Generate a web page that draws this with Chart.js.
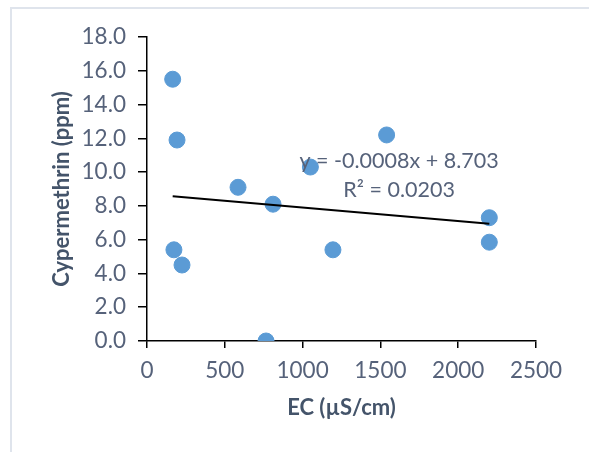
<!DOCTYPE html>
<html>
<head>
<meta charset="utf-8">
<script src="https://cdn.jsdelivr.net/npm/chart.js@4/dist/chart.umd.min.js"></script>
<style>
  html, body { margin: 0; padding: 0; background: #fff; }
  #wrap { position: relative; width: 589px; height: 452px; }
  #frame { position: absolute; left: 10px; top: 7px; right: 0; bottom: 0;
           border-left: 2px solid #dfe4ec; border-top: 2px solid #dfe4ec; }
  canvas { position: absolute; left: 0; top: 0; }
</style>
</head>
<body>
<div id="wrap">
  <div id="frame"></div>
  <canvas id="c" width="589" height="452"></canvas>
</div>
<script>
// EC (µS/cm) and cypermethrin (ppm) for each sample
const ecValues = [165, 193, 173, 225, 585, 810, 765, 1050, 1195, 1540, 2200, 2200];
const cypermethrin = [15.5, 11.9, 5.4, 4.5, 9.1, 8.1, 0.0, 10.3, 5.4, 12.2, 7.3, 5.85];

// Linear trendline coefficients and fit
const trendSlope = -0.0008;
const trendIntercept = 8.703;
const trendR2 = 0.0203;
const trendLabel = 'y = -0.0008x + 8.703';
const r2Label = 'R\u00B2 = 0.0203';

const xTicks = [0, 500, 1000, 1500, 2000, 2500];
const yTicks = [0, 2, 4, 6, 8, 10, 12, 14, 16, 18];

const xTitle = 'EC (\u00B5S/cm)';
const yTitle = 'Cypermethrin (ppm)';

const points = ecValues.map((x, i) => ({ x: x, y: cypermethrin[i] }));
const xMin = Math.min(...ecValues), xMax = Math.max(...ecValues);
const trendPoints = [xMin, xMax].map(x => ({ x: x, y: trendSlope * x + trendIntercept }));

const tickColor = '#56627a';
const titleColor = '#44546a';

// Equation label drawn beside the trendline
const equationPlugin = {
  id: 'equation',
  afterDatasetsDraw(chart) {
    const ctx = chart.ctx;
    const xs = chart.scales.x, ys = chart.scales.y;
    const cx = xs.getPixelForValue(1620);
    ctx.save();
    ctx.font = '21.5px Lato';
    ctx.fillStyle = tickColor;
    ctx.textAlign = 'center';
    ctx.textBaseline = 'middle';
    ctx.fillText(trendLabel, cx, ys.getPixelForValue(10.63));
    ctx.fillText(r2Label, cx, ys.getPixelForValue(8.95));
    ctx.restore();
  }
};

new Chart(document.getElementById('c'), {
  type: 'scatter',
  data: {
    datasets: [
      {
        label: 'Cypermethrin',
        data: points,
        backgroundColor: '#5b9bd5',
        borderColor: '#5b9bd5',
        pointRadius: 8,
        pointHoverRadius: 8,
        order: 2
      },
      {
        label: 'Linear trend',
        type: 'line',
        data: trendPoints,
        borderColor: '#000000',
        borderWidth: 2,
        pointRadius: 0,
        fill: false,
        order: 1
      }
    ]
  },
  options: {
    responsive: false,
    animation: false,
    layout: { padding: { left: 49, top: 37, right: 53, bottom: 31 } },
    plugins: { legend: { display: false }, tooltip: { enabled: false } },
    scales: {
      x: {
        type: 'linear',
        min: 0, max: 2500,
        afterBuildTicks(scale) { scale.ticks = xTicks.map(v => ({ value: v })); },
        afterFit(scale) { scale.height = 80; },
        border: { display: true, color: '#000', width: 1.5 },
        grid: { display: true, drawOnChartArea: false, drawTicks: true, tickLength: 7, color: '#000', tickColor: '#000', lineWidth: 1.5 },
        ticks: { color: tickColor, font: { family: 'Lato', size: 22.5 }, padding: 9, callback: v => String(v) },
        title: { display: true, text: xTitle, color: titleColor, font: { family: 'Lato', size: 22, weight: 'bold' }, padding: { top: 0, bottom: 0 } }
      },
      y: {
        type: 'linear',
        min: 0, max: 18,
        afterBuildTicks(scale) { scale.ticks = yTicks.map(v => ({ value: v })); },
        afterFit(scale) { scale.width = 98; },
        border: { display: true, color: '#000', width: 1.5 },
        grid: { display: true, drawOnChartArea: false, drawTicks: true, tickLength: 9, color: '#000', tickColor: '#000', lineWidth: 1.5 },
        ticks: { color: tickColor, font: { family: 'Lato', size: 22.5 }, padding: 12, callback: v => Number(v).toFixed(1) },
        title: { display: true, text: yTitle, color: titleColor, font: { family: 'Lato', size: 22, weight: 'bold' }, padding: { top: 0, bottom: 0 } }
      }
    }
  },
  plugins: [equationPlugin]
});
</script>
</body>
</html>
